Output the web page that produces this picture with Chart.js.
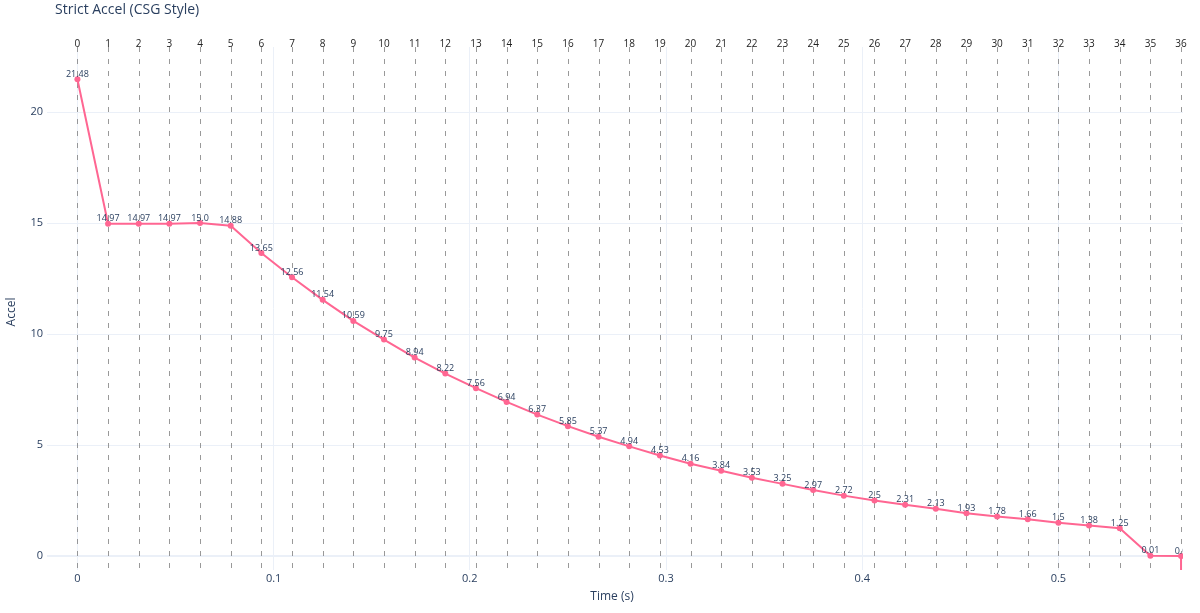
<!DOCTYPE html>
<html>
<head>
<meta charset="utf-8">
<script src="https://cdn.jsdelivr.net/npm/chart.js@4"></script>
<style>
  html, body { margin: 0; padding: 0; background: #fff; }
  #wrap { width: 1200px; height: 613px; }
</style>
</head>
<body>
<div id="wrap"><canvas id="accelChart" width="1200" height="613"></canvas></div>
<script>
// frame index of each sample (shown on top)
var frameLabels = ['0','1','2','3','4','5','6','7','8','9','10','11','12','13','14','15','16','17','18',
  '19','20','21','22','23','24','25','26','27','28','29','30','31','32','33','34','35','36'];
// time of each frame, seconds
var timeValues = [0, 0.015625, 0.03125, 0.046875, 0.0625, 0.078125, 0.09375, 0.109375, 0.125, 0.140625,
  0.15625, 0.171875, 0.1875, 0.203125, 0.21875, 0.234375, 0.25, 0.265625, 0.28125, 0.296875, 0.3125,
  0.328125, 0.34375, 0.359375, 0.375, 0.390625, 0.40625, 0.421875, 0.4375, 0.453125, 0.46875, 0.484375,
  0.5, 0.515625, 0.53125, 0.546875, 0.5625];
var accelValues = [21.48, 14.97, 14.97, 14.97, 15.0, 14.88, 13.65, 12.56, 11.54, 10.59, 9.75, 8.94, 8.22,
  7.56, 6.94, 6.37, 5.85, 5.37, 4.94, 4.53, 4.16, 3.84, 3.53, 3.25, 2.97, 2.72, 2.5, 2.31, 2.13, 1.93,
  1.78, 1.66, 1.5, 1.38, 1.25, 0.01, 0];
var accelText = ['21.48','14.97','14.97','14.97','15.0','14.88','13.65','12.56','11.54','10.59','9.75',
  '8.94','8.22','7.56','6.94','6.37','5.85','5.37','4.94','4.53','4.16','3.84','3.53','3.25','2.97',
  '2.72','2.5','2.31','2.13','1.93','1.78','1.66','1.5','1.38','1.25','0.01','0.0'];
// the trace ends with a drop below the axis at the last time (clipped)
var tailTime = 0.5625;
var tailAccel = -20;

var xTicks = [0, 0.1, 0.2, 0.3, 0.4, 0.5];
var yTicks = [0, 5, 10, 15, 20];

var FONT = '"Open Sans", "DejaVu Sans", Arial, sans-serif';
var TXT = '#2a3f5f';

var points = [];
for (var i = 0; i < timeValues.length; i++) {
  points.push({ x: timeValues[i], y: accelValues[i] });
}
points.push({ x: tailTime, y: tailAccel });

// dashed frame lines + frame numbers on top, titles, point texts
var overlay = {
  id: 'overlay',
  beforeDatasetsDraw: function (chart) {
    var c = chart.ctx, a = chart.chartArea, xs = chart.scales.x;
    c.save();
    c.strokeStyle = 'rgba(128,128,128,0.8)';
    c.lineWidth = 1;
    c.setLineDash([5, 7]);
    for (var i = 0; i < timeValues.length; i++) {
      var px = Math.round(xs.getPixelForValue(timeValues[i])) + 0.5;
      c.beginPath();
      c.moveTo(px, a.top);
      c.lineTo(px, a.bottom);
      c.stroke();
    }
    c.restore();
  },
  afterDatasetsDraw: function (chart) {
    var c = chart.ctx, a = chart.chartArea, xs = chart.scales.x, ys = chart.scales.y;
    c.save();
    // frame numbers
    c.fillStyle = '#222';
    c.font = '10px ' + FONT;
    c.textAlign = 'center';
    c.textBaseline = 'middle';
    for (var i = 0; i < frameLabels.length; i++) {
      c.fillText(frameLabels[i], xs.getPixelForValue(timeValues[i]), 44);
    }
    // point texts, clipped at the right edge of the plot
    c.save();
    c.beginPath();
    c.rect(0, 0, a.right, chart.height);
    c.clip();
    c.fillStyle = TXT;
    c.font = '9px ' + FONT;
    for (var j = 0; j < accelText.length; j++) {
      c.fillText(accelText[j], xs.getPixelForValue(timeValues[j]), ys.getPixelForValue(accelValues[j]) - 5);
    }
    c.restore();
    // titles
    c.fillStyle = TXT;
    c.textAlign = 'left';
    c.font = '14px ' + FONT;
    c.fillText('Strict Accel (CSG Style)', 55, 10);
    c.textAlign = 'center';
    c.font = '12px ' + FONT;
    c.fillText('Time (s)', 612, 597);
    c.translate(12, 312);
    c.rotate(-Math.PI / 2);
    c.fillText('Accel', 0, 0);
    c.restore();
  }
};

new Chart(document.getElementById('accelChart').getContext('2d'), {
  type: 'line',
  data: {
    datasets: [{
      data: points,
      borderColor: '#ff6692',
      backgroundColor: '#ff6692',
      borderWidth: 2,
      pointRadius: 3,
      pointBorderWidth: 0,
      pointHoverRadius: 3,
      tension: 0
    }]
  },
  options: {
    responsive: false,
    animation: false,
    layout: { padding: { top: 47, right: 17, left: 0, bottom: 0 } },
    plugins: {
      legend: { display: false },
      tooltip: { enabled: false },
      title: { display: false }
    },
    scales: {
      x: {
        type: 'linear',
        min: -0.0155,
        max: 0.5635,
        border: { display: false },
        grid: { color: '#ebf0f8', drawTicks: false, lineWidth: 1 },
        ticks: { color: TXT, font: { family: FONT, size: 11 }, padding: 2, maxRotation: 0 },
        afterBuildTicks: function (s) { s.ticks = xTicks.map(function (v) { return { value: v }; }); },
        afterFit: function (s) { s.height = 43; }
      },
      y: {
        type: 'linear',
        min: -0.63,
        max: 22.93,
        border: { display: false },
        grid: {
          color: '#ebf0f8',
          drawTicks: false,
          lineWidth: function (ctx) { return ctx.tick && ctx.tick.value === 0 ? 2 : 1; }
        },
        ticks: { color: TXT, font: { family: FONT, size: 11 }, padding: 4 },
        afterBuildTicks: function (s) { s.ticks = yTicks.map(function (v) { return { value: v }; }); },
        afterFit: function (s) { s.width = 47; }
      }
    }
  },
  plugins: [overlay]
});
</script>
</body>
</html>
